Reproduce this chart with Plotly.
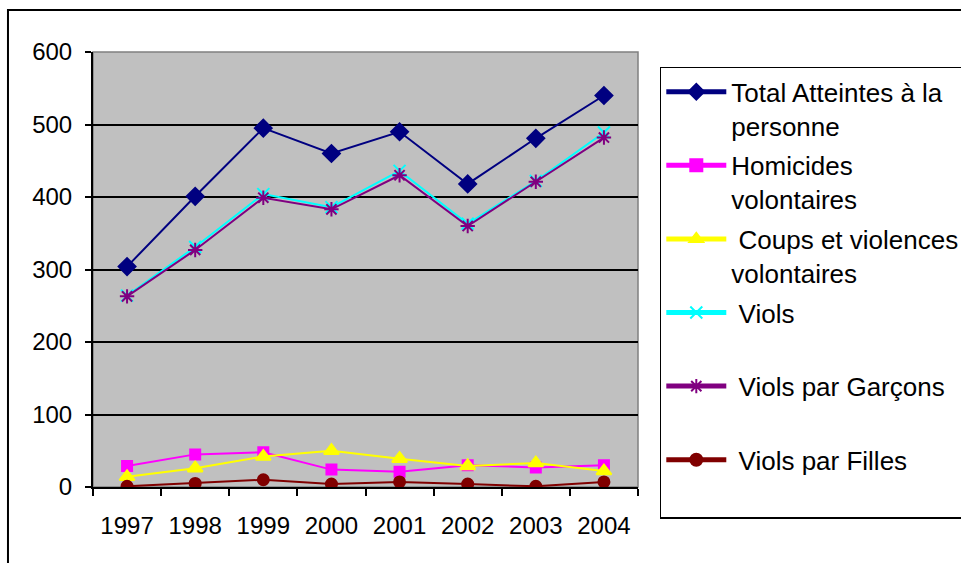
import plotly.graph_objects as go

# Years on the category axis
years = ["1997", "1998", "1999", "2000", "2001", "2002", "2003", "2004"]

# Series values per year
total_atteintes = [304, 401, 495, 460, 490, 418, 481, 540]
homicides = [29, 45, 48, 24, 21, 30, 27, 30]
coups_violences = [14, 26, 42, 50, 39, 29, 33, 22]
viols = [264, 331, 404, 386, 436, 363, 422, 489]
viols_garcons = [263, 327, 399, 383, 430, 360, 421, 482]
viols_filles = [1, 5, 10, 4, 7, 4, 1, 7]

# Legend labels (two text lines per entry)
names = [
    "Total Atteintes à la<br>personne",
    "Homicides<br>volontaires",
    "\u00a0Coups et violences<br>volontaires",
    "\u00a0Viols<br>\u00a0",
    "\u00a0Viols par Garçons<br>\u00a0",
    "\u00a0Viols par Filles<br>\u00a0",
]

FONT = "Liberation Sans, Arial, sans-serif"

series = [
    (total_atteintes, names[0], "#000080", "diamond", 13),
    (homicides, names[1], "#FF00FF", "square", 10),
    (coups_violences, names[2], "#FFFF00", "triangle-up", 13),
    (viols, names[3], "#00FFFF", "x-thin-open", 12),
    (viols_garcons, names[4], "#800080", "asterisk-open", 12),
    (viols_filles, names[5], "#800000", "circle", 11),
]

fig = go.Figure()
for i, (vals, name, color, symbol, size) in enumerate(series):
    fig.add_trace(go.Scatter(
        x=years, y=vals, name=name, mode="lines+markers",
        legendgroup=f"g{i}",
        line=dict(color=color, width=2),
        marker=dict(symbol=symbol, size=size, color=color,
                    line=dict(color=color, width=2)),
    ))

fig.update_layout(
    width=961, height=563,
    margin=dict(l=93, r=323, t=52, b=76, autoexpand=False),
    paper_bgcolor="white",
    plot_bgcolor="#C0C0C0",
    font=dict(family=FONT, size=24, color="black"),
    showlegend=True,
    legend=dict(
        x=1.04, y=0.966, xanchor="left", yanchor="top",
        bgcolor="white", bordercolor="black", borderwidth=1.5,
        font=dict(family=FONT, size=26, color="black"),
        itemwidth=60, valign="top", tracegroupgap=3,
        itemsizing="constant", maxheight=700,
    ),
    xaxis=dict(
        type="category", range=[-0.5, 7.5],
        showline=True, linecolor="black", linewidth=2,
        ticks="outside", tickson="boundaries", ticklen=7,
        tickwidth=2, tickcolor="black",
        showgrid=False, ticklabelstandoff=16,
        tickfont=dict(size=24),
    ),
    yaxis=dict(
        range=[0, 600], tickvals=[0, 100, 200, 300, 400, 500, 600],
        showline=True, linecolor="black", linewidth=2,
        ticks="outside", ticklen=6, tickwidth=2, tickcolor="black",
        showgrid=True, gridcolor="black", gridwidth=1.5,
        zeroline=False, ticklabelstandoff=8,
        tickfont=dict(size=24),
    ),
    shapes=[
        # plot area frame
        dict(type="rect", xref="paper", yref="paper", x0=0, x1=1, y0=0, y1=1,
             line=dict(color="#808080", width=1.5), layer="below"),
        # outer chart border
        dict(type="rect", xref="paper", yref="paper",
             x0=-0.156, x1=1.8, y0=-0.4, y1=1.0966,
             line=dict(color="black", width=2)),
    ],
)

fig.write_html("out.html")
